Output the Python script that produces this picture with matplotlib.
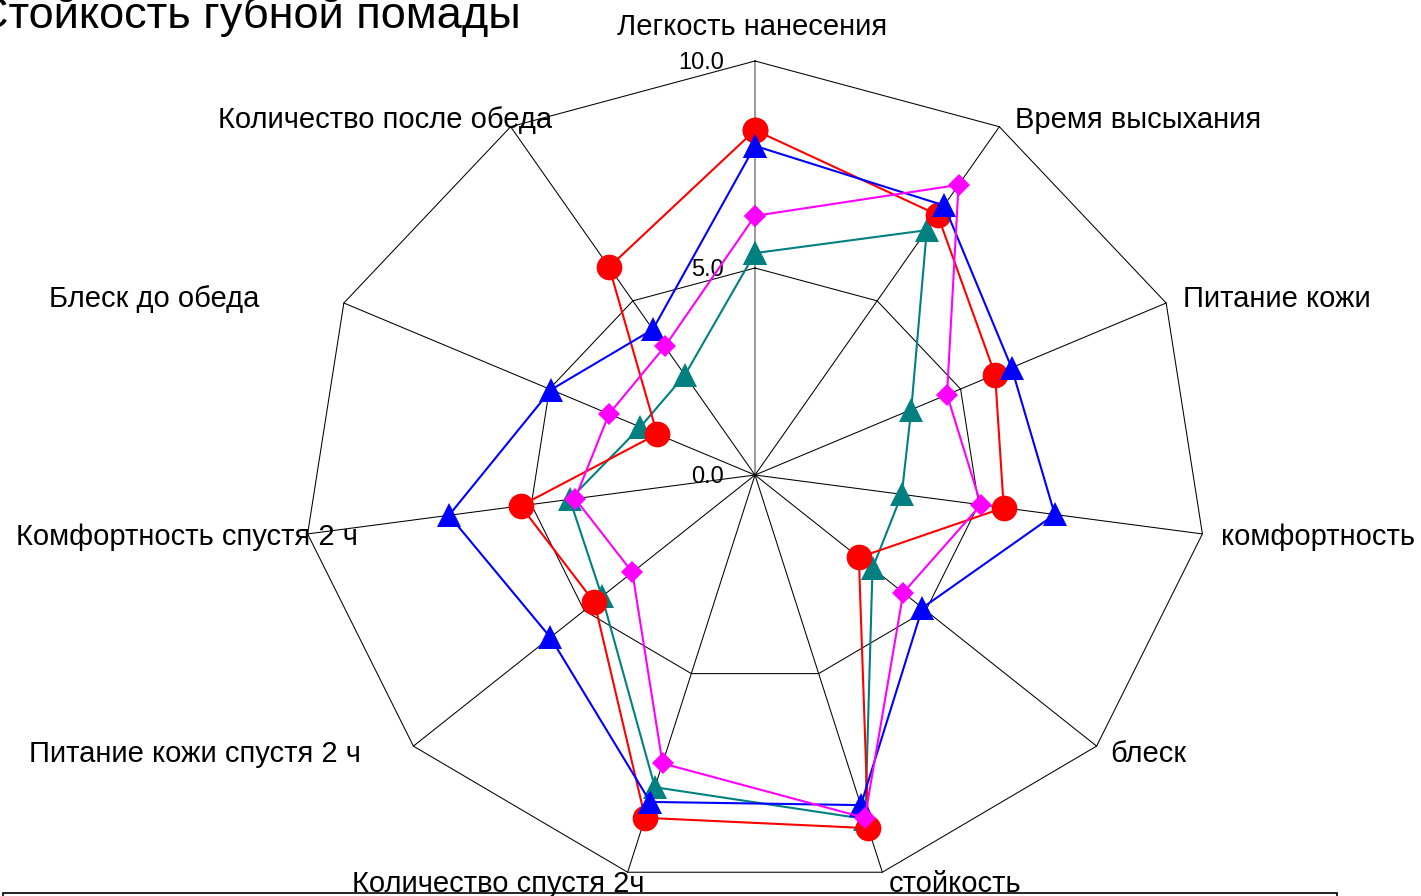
import numpy as np
import matplotlib
matplotlib.use('Agg')
from matplotlib import pyplot as plt
from matplotlib.patches import Rectangle

plt.rcParams['font.family'] = ['Liberation Sans', 'DejaVu Sans']

# Chart data
title = 'Стойкость губной помады'
categories = ['Легкость нанесения', 'Время высыхания', 'Питание кожи', 'комфортность',
              'блеск', 'стойкость', 'Количество спустя 2ч', 'Питание кожи спустя 2 ч',
              'Комфортность спустя 2 ч', 'Блеск до обеда', 'Количество после обеда']
red_vals = [8.33, 7.47, 5.84, 5.56, 3.04, 8.89, 8.63, 4.70, 5.24, 2.38, 5.97]
blue_vals = [7.95, 7.74, 6.24, 6.70, 4.90, 8.31, 8.23, 5.99, 6.84, 4.96, 4.18]
magenta_vals = [6.26, 8.33, 4.67, 5.05, 4.34, 8.63, 7.26, 3.59, 4.02, 3.55, 3.69]
teal_vals = [5.36, 7.03, 3.80, 3.28, 3.44, 8.66, 7.86, 4.48, 4.14, 2.79, 2.87]
ticks = [0.0, 5.0, 10.0]
rmax = 10.0

# label placement (offset in pixels from outer vertex, y up)
label_style = [('center', -3, 26), ('left', 16, -1), ('left', 17, -4), ('left', 19, -11),
               ('left', 14, -16), ('left', 6, -20), ('right', 17, -20), ('right', -53, -16),
               ('right', 50, -11), ('right', -84, -4), ('right', 41, -1)]

W, H = 1421, 896
cx, cy = 755, 475          # centre in pixels
sx, sy = 45.2, 41.4        # pixels per unit (the chart is stretched sideways)

fig = plt.figure(figsize=(W / 100, H / 100), dpi=100)
ax = fig.add_axes([0, 0, 1, 1])
ax.set_xlim(-cx / sx, (W - cx) / sx)
ax.set_ylim((cy - H) / sy, cy / sy)
ax.axis('off')

n = len(categories)
ang = np.arange(n) * 2 * np.pi / n
dx, dy = np.sin(ang), np.cos(ang)


def xy(vals):
    v = np.asarray(vals, dtype=float)
    x = v * dx
    y = v * dy
    return np.append(x, x[0]), np.append(y, y[0])


# grid
for k in range(n):
    c = '#808080' if k == 0 else 'black'
    lw = 1.1 if k == 0 else 0.75
    ax.plot([0, rmax * dx[k]], [0, rmax * dy[k]], color=c, lw=lw, zorder=1)
for t in ticks[1:]:
    gx, gy = xy([t] * n)
    ax.plot(gx, gy, color='black', lw=0.75, zorder=1)

for t in ticks:
    ax.annotate('%.1f' % t, (0, t), xytext=(-31, -8), textcoords='offset pixels',
                ha='right', va='baseline', fontsize=17, zorder=2)

for k, name in enumerate(categories):
    ha, ox, oy = label_style[k]
    ax.annotate(name, (rmax * dx[k], rmax * dy[k]), xytext=(ox, oy), textcoords='offset pixels',
                ha=ha, va='baseline', fontsize=21, zorder=2)

# series
series = [(teal_vals, '#008080', '^', 17), (red_vals, '#ff0000', 'o', 18.5),
          (blue_vals, '#0000ff', '^', 17), (magenta_vals, '#ff00ff', 'D', 11.7)]
for z, (vals, col, mk, ms) in enumerate(series):
    px, py = xy(vals)
    ax.plot(px, py, color=col, lw=1.5, marker=mk, markersize=ms, markeredgewidth=0,
            zorder=3 + z)

fig.text(-24 / W, 1 - 28 / H, title, fontsize=32.5, ha='left', va='baseline')

# legend frame (cut by the figure edge)
fig.patches.append(Rectangle((3 / W, -0.05), (1337 - 3) / W, 0.05 + (H - 893) / H,
                             transform=fig.transFigure, fill=False, ec='black', lw=1.2))

fig.savefig('out.png', dpi=100)
